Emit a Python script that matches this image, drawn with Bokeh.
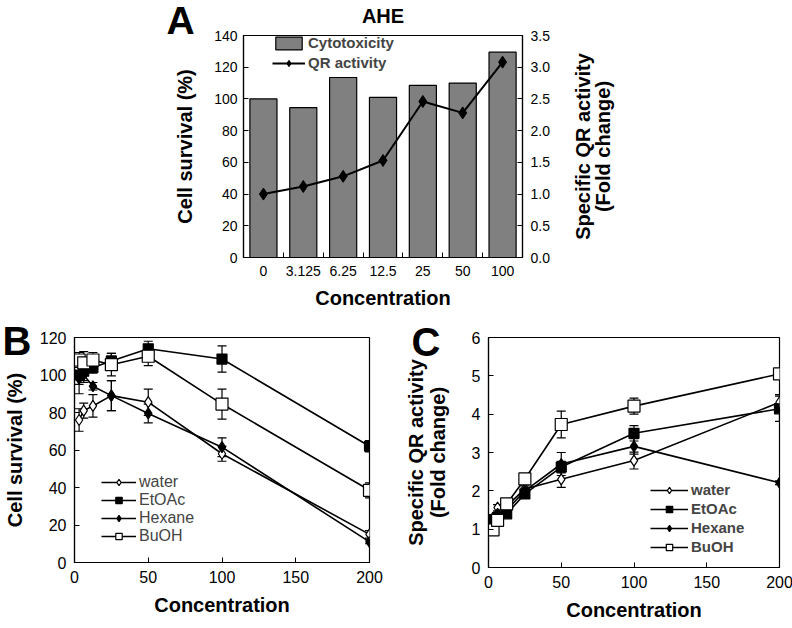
import math
from bokeh.plotting import figure
from bokeh.models import (Range1d, LinearAxis, FixedTicker, NumeralTickFormatter, Legend,
                          LegendItem, Label, Title, Whisker, TeeHead, ColumnDataSource)
from bokeh.layouts import column, row
from bokeh.embed import file_html
from bokeh.resources import INLINE

FONT = "Liberation Sans"

# ---------------- data ----------------
a_categories = ["0", "3.125", "6.25", "12.5", "25", "50", "100"]
a_cytotoxicity = [100, 94.5, 113.5, 101, 108.5, 110, 129.5]
a_qr_activity = [1.0, 1.12, 1.28, 1.53, 2.46, 2.28, 3.08]

conc = [3.125, 6.25, 12.5, 25, 50, 100, 200]

b_water = [76, 81, 83.5, 89, 85.5, 58, 15]
b_water_err = [6, 4, 6, 8, 7, 4, 2]
b_etoac = [100, 102, 104, 107.5, 114, 108.5, 62]
b_etoac_err = [5, 6, 3, 4, 4, 7, 3]
b_hexane = [98, 100, 94, 89, 79.5, 61.5, 11]
b_hexane_err = [8, 3, 2, 8, 5, 5, 1]
b_buoh = [108, 106.5, 108, 105.5, 110, 84.5, 38.5]
b_buoh_err = [4, 6, 4, 6, 5, 8, 4]

c_water = [1.3, 1.56, 1.6, 2.05, 2.3, 2.79, 4.31]
c_water_err = [0.08, 0.08, 0.1, 0.1, 0.21, 0.22, 0.2]
c_etoac = [1.23, 1.3, 1.4, 1.92, 2.62, 3.5, 4.14]
c_etoac_err = [0.05, 0.05, 0.08, 0.1, 0.15, 0.2, 0.33]
c_hexane = [1.25, 1.4, 1.5, 2.0, 2.7, 3.16, 2.21]
c_hexane_err = [0.05, 0.05, 0.05, 0.1, 0.3, 0.2, 0.05]
c_buoh = [0.98, 1.23, 1.66, 2.31, 3.73, 4.21, 5.05]
c_buoh_err = [0.05, 0.05, 0.08, 0.1, 0.35, 0.21, 0.05]

series_names = ["water", "EtOAc", "Hexane", "BuOH"]


def style_axis(ax, tick_size, tick_style, label_style="bold", label_size="20px"):
    ax.axis_line_color = "black"
    ax.axis_line_width = 1.2
    ax.major_tick_line_color = "black"
    ax.minor_tick_line_color = None
    ax.major_tick_in = 5
    ax.major_tick_out = 0
    ax.major_label_text_font = FONT
    ax.major_label_text_font_size = tick_size
    ax.major_label_text_font_style = tick_style
    ax.major_label_text_color = "black"
    ax.axis_label_text_font = FONT
    ax.axis_label_text_font_size = label_size
    ax.axis_label_text_font_style = label_style
    ax.axis_label_text_color = "black"


def base_fig(**kw):
    p = figure(output_backend="svg", toolbar_location=None, **kw)
    p.xgrid.visible = False
    p.ygrid.visible = False
    p.outline_line_color = "black"
    p.outline_line_width = 1.2
    p.background_fill_color = "white"
    p.border_fill_color = "white"
    return p


def side_label(p, side, text, x, y, size, align="center", baseline="alphabetic", angle=0.0):
    p.add_layout(Label(x=x, y=y, text=text, text_align=align, text_baseline=baseline,
                       angle=angle, text_font=FONT, text_font_size=size,
                       text_font_style="bold", text_color="black"), side)


def letter_title(p, text, offset, standoff, size="40px"):
    p.add_layout(Title(text=text, align="left", offset=offset, vertical_align="bottom",
                       standoff=standoff, text_font=FONT, text_font_size=size,
                       text_font_style="bold", text_color="black"), "above")


# ---------------- Panel A ----------------
xa = list(range(len(a_categories)))
pA = base_fig(frame_width=279, frame_height=222, min_border_left=243, min_border_right=270,
              min_border_top=35, min_border_bottom=61,
              x_range=Range1d(-0.5, 6.5), y_range=Range1d(0, 140))
pA.extra_y_ranges = {"qr": Range1d(0, 3.5)}
bars = pA.vbar(x=xa, top=a_cytotoxicity, width=0.68, fill_color="#808080", line_color="black",
               line_width=1.2)
qr_line = pA.line(x=xa, y=a_qr_activity, y_range_name="qr", line_color="black", line_width=2)
qr_pts = pA.scatter(x=xa, y=a_qr_activity, y_range_name="qr", marker="diamond", size=12,
                    fill_color="black", line_color="black")

pA.xaxis.ticker = FixedTicker(ticks=xa, minor_ticks=[0.5, 1.5, 2.5, 3.5, 4.5, 5.5])
pA.xaxis.major_label_overrides = {i: c for i, c in enumerate(a_categories)}
pA.yaxis.ticker = FixedTicker(ticks=[0, 20, 40, 60, 80, 100, 120, 140])
for ax in pA.xaxis + pA.yaxis:
    style_axis(ax, "14px", "normal")
pA.xaxis.major_tick_line_color = None
pA.xaxis.minor_tick_line_color = "black"
pA.xaxis.minor_tick_in = 5
pA.xaxis.minor_tick_out = 0
pA.xaxis.major_label_standoff = 8
pA.xaxis.axis_label = "Concentration"
pA.xaxis.axis_label_standoff = 8
pA.yaxis.axis_label = "Cell survival (%)"
pA.yaxis.major_label_standoff = 6
pA.yaxis.axis_label_standoff = 15

ra = LinearAxis(y_range_name="qr", ticker=FixedTicker(ticks=[0, 0.5, 1, 1.5, 2, 2.5, 3, 3.5]),
                formatter=NumeralTickFormatter(format="0.0"))
style_axis(ra, "14px", "normal")
ra.major_label_standoff = 8
pA.add_layout(ra, "right")
# right axis title, reading bottom-to-top as in the reference (two lines)
side_label(pA, "right", "Specific QR activity", 8.03, 70, "20px", baseline="middle",
           angle=math.pi / 2)
side_label(pA, "right", "(Fold change)", 8.52, 70, "20px", baseline="middle",
           angle=math.pi / 2)

legA = Legend(items=[LegendItem(label="Cytotoxicity", renderers=[bars]),
                     LegendItem(label="QR activity", renderers=[qr_line, qr_pts])],
              location=(29, 186), padding=0, margin=0, spacing=3, glyph_width=33,
              glyph_height=16, label_height=16, label_standoff=3,
              label_text_font=FONT, label_text_font_size="15px", label_text_font_style="bold",
              background_fill_alpha=0, border_line_color=None)
pA.add_layout(legA)
side_label(pA, "above", "AHE", 3, 152.0, "20px")
side_label(pA, "left", "A", -2.08, 149.6, "39px")


# ---------------- Panels B and C ----------------
def line_panel(p, ys, errs, legend_loc, leg_font_style, leg_font_size, leg_spacing, glyph_w):
    markers = [("diamond", 11, "white"), ("square", 10, "black"),
               ("diamond", 11, "black"), ("square", 12, "white")]
    items = []
    for name, y, e, (mk, sz, fc) in zip(series_names, ys, errs, markers):
        src = ColumnDataSource(dict(x=conc, y=y,
                                    lo=[a - b for a, b in zip(y, e)],
                                    hi=[a + b for a, b in zip(y, e)]))
        w = Whisker(source=src, base="x", upper="hi", lower="lo", line_color="black",
                    line_width=1.2,
                    upper_head=TeeHead(size=9, line_color="black", line_width=1.2),
                    lower_head=TeeHead(size=9, line_color="black", line_width=1.2))
        p.add_layout(w)
        ln = p.line("x", "y", source=src, line_color="black", line_width=1.6)
        sc = p.scatter("x", "y", source=src, marker=mk, size=sz, fill_color=fc,
                       line_color="black", line_width=1.2)
        items.append(LegendItem(label=name, renderers=[ln, sc]))
    leg = Legend(items=items, location=legend_loc, padding=0, margin=0, spacing=leg_spacing,
                 glyph_width=glyph_w, glyph_height=16, label_height=16, label_standoff=3,
                 label_text_font=FONT, label_text_font_size=leg_font_size,
                 label_text_font_style=leg_font_style,
                 background_fill_alpha=0, border_line_color=None)
    p.add_layout(leg)
    p.xaxis.ticker = FixedTicker(ticks=[0, 50, 100, 150, 200])
    for ax in p.xaxis + p.yaxis:
        style_axis(ax, "16px", "normal")
    p.xaxis.axis_label = "Concentration"
    p.xaxis.major_label_standoff = 8
    p.xaxis.axis_label_standoff = 8


pB = base_fig(frame_width=295, frame_height=225, min_border_left=73, min_border_right=32,
              min_border_top=19, min_border_bottom=66,
              x_range=Range1d(0, 200), y_range=Range1d(0, 120))
line_panel(pB, [b_water, b_etoac, b_hexane, b_buoh],
           [b_water_err, b_etoac_err, b_hexane_err, b_buoh_err],
           (27, 17), "normal", "16px", 0, 35)
pB.yaxis.ticker = FixedTicker(ticks=[0, 20, 40, 60, 80, 100, 120])
pB.yaxis.axis_label = "Cell survival (%)"
pB.yaxis.major_label_standoff = 8
pB.yaxis.axis_label_standoff = 11
letter_title(pB, "B", -72, -50)

pC = base_fig(frame_width=291, frame_height=230, min_border_left=85, min_border_right=16,
              min_border_top=19, min_border_bottom=61,
              x_range=Range1d(0, 200), y_range=Range1d(0, 6))
line_panel(pC, [c_water, c_etoac, c_hexane, c_buoh],
           [c_water_err, c_etoac_err, c_hexane_err, c_buoh_err],
           (162, 12), "bold", "15px", 2, 38)
pC.yaxis.ticker = FixedTicker(ticks=[0, 1, 2, 3, 4, 5, 6])
pC.yaxis.axis_label = "Specific QR activity\n(Fold change)"
pC.yaxis.axis_label_text_line_height = 1.0
pC.yaxis.major_label_standoff = 8
pC.yaxis.axis_label_standoff = 20
letter_title(pC, "C", -77, -53)

layout = column(pA, row(pB, pC))
open("out.html", "w").write(file_html(layout, INLINE))
